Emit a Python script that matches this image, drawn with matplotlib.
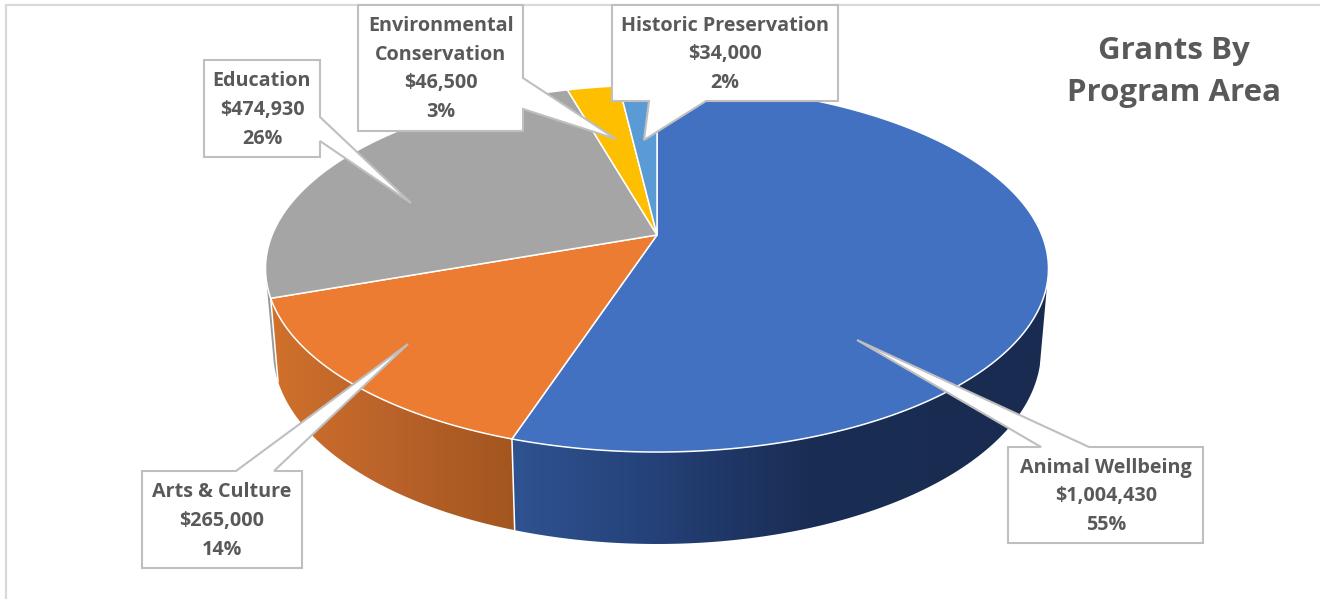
import numpy as np
import matplotlib
matplotlib.use("Agg")
import matplotlib.pyplot as plt
from matplotlib.colors import LinearSegmentedColormap
from matplotlib.patches import Polygon

# ---- data ----
categories = ["Animal Wellbeing", "Arts & Culture", "Education",
              "Environmental\nConservation", "Historic Preservation"]
values = [1004430, 265000, 474930, 46500, 34000]
percents = [55, 14, 26, 3, 2]

# ---- style ----
top_colors = ["#4271c2", "#eb7c31", "#a5a5a5", "#fdbf00", "#5b9bd5"]
# left-to-right gradient across each visible wall
wall_stops = [
    [(0.0, "#2f5391"), (0.25, "#25427a"), (0.55, "#1a2d54"), (1.0, "#192b50")],
    [(0.0, "#d0712c"), (0.5, "#b9622a"), (1.0, "#a2561e")],
    [(0.0, "#9a9a9a"), (1.0, "#9a9a9a")],
    [(0.0, "#b08500"), (1.0, "#b08500")],
    [(0.0, "#3f6f9c"), (1.0, "#3f6f9c")],
]
TEXT = "#595959"
EDGE = "#bfbfbf"
FONT = "Open Sans"

# projected-circle geometry of the top and bottom faces, in pixels
K = 0.1826
TOP = dict(cx=657.0, cy=235.0, a=384.9, b=177.4)
BOT = dict(cx=657.0, cy=314.6, a=377.6, b=187.5)


def project(t, face):
    """Clockwise angle from 12 o'clock -> screen position on a tilted disc."""
    x, y = np.sin(t), np.cos(t)
    d = 1 + K * y
    return face["cx"] + face["a"] * x / d, face["cy"] - face["b"] * y / d


fig = plt.figure(figsize=(13.2, 5.99), dpi=100)
ax = fig.add_axes([0, 0, 1, 1])
ax.set_xlim(0, 1320)
ax.set_ylim(599, 0)
ax.axis("off")

# outer frame (top and left only are visible)
ax.plot([6, 6, 1320], [599, 5, 5], color="#d9d9d9", lw=1.6, zorder=1,
        solid_joinstyle="miter")

edges = np.concatenate([[0], np.cumsum(values)]) / np.sum(values) * 2 * np.pi

# walls: only the front part is visible
VIS_START, VIS_END = np.radians(105), np.radians(256)
gradient = np.linspace(0, 1, 512).reshape(1, -1)
for i in range(len(values)):
    lo, hi = max(edges[i], VIS_START), min(edges[i + 1], VIS_END)
    if lo >= hi:
        continue
    ts = np.linspace(lo, hi, 300)
    x1, y1 = project(ts, TOP)
    x2, y2 = project(ts, BOT)
    px = np.r_[x1, x2[::-1]]
    py = np.r_[y1, y2[::-1]]
    cmap = LinearSegmentedColormap.from_list(f"wall{i}", wall_stops[i])
    im = ax.imshow(gradient, cmap=cmap, vmin=0, vmax=1, aspect="auto", zorder=2,
                   extent=(px.min(), px.max(), py.max(), py.min()),
                   interpolation="bilinear")
    poly = Polygon(np.c_[px, py], closed=True, transform=ax.transData,
                   facecolor="none", edgecolor="none")
    ax.add_patch(poly)
    im.set_clip_path(poly)
ax.set_xlim(0, 1320)
ax.set_ylim(599, 0)
for t in edges:
    if VIS_START < t < VIS_END:
        xa, ya = project(t, TOP)
        xb, yb = project(t, BOT)
        ax.plot([xa, xb], [ya, yb], color="white", lw=1.1, zorder=3)

# top faces
apex = (TOP["cx"], TOP["cy"])
for i, col in enumerate(top_colors):
    ts = np.linspace(edges[i], edges[i + 1], 300)
    xs, ys = project(ts, TOP)
    ax.fill(np.r_[apex[0], xs], np.r_[apex[1], ys], facecolor=col,
            edgecolor="white", lw=1.1, zorder=4, joinstyle="round")

# callouts: box (x0, y0, x1, y1), pointer base on one side and tip
callouts = [
    dict(box=(1008, 447, 1203, 543), side="top", base=(1041, 1089), tip=(857, 340),
         text=(1106, 496.5)),
    dict(box=(142, 471, 302, 568), side="top", base=(236, 274), tip=(408, 344),
         text=(222, 521)),
    dict(box=(204, 60, 320, 157), side="right", base=(117, 141), tip=(411, 203),
         text=(262, 110)),
    dict(box=(358, 5, 523, 131), side="right", base=(78, 109), tip=(616, 139),
         text=(441, 69)),
    dict(box=(612, 5, 838, 101), side="bottom", base=(649, 706), tip=(644, 140),
         text=(725, 54.5)),
]

for i, c in enumerate(callouts):
    x0, y0, x1, y1 = c["box"]
    b0, b1 = c["base"]
    tx, ty = c["tip"]
    if c["side"] == "top":
        pts = [(x0, y0), (b0, y0), (tx, ty), (b1, y0), (x1, y0), (x1, y1), (x0, y1)]
    elif c["side"] == "right":
        pts = [(x0, y0), (x1, y0), (x1, b0), (tx, ty), (x1, b1), (x1, y1), (x0, y1)]
    else:
        pts = [(x0, y0), (x1, y0), (x1, y1), (b1, y1), (tx, ty), (b0, y1), (x0, y1)]
    px, py = zip(*pts)
    ax.fill(px, py, facecolor="white", edgecolor=EDGE, lw=1.5, zorder=5 + i * 0.1,
            joinstyle="miter")
    label = f"{categories[i]}\n${values[i]:,}\n{percents[i]}%"
    ax.text(c["text"][0], c["text"][1], label, ha="center", va="center",
            family=FONT, weight="bold", fontsize=14.2, color=TEXT,
            linespacing=1.58, zorder=7)

ax.text(1174, 72, "Grants By\nProgram Area", ha="center", va="center", family=FONT,
        weight="bold", fontsize=22.5, color=TEXT, linespacing=1.56, zorder=7)

fig.savefig("out.png", dpi=100, facecolor="white")
